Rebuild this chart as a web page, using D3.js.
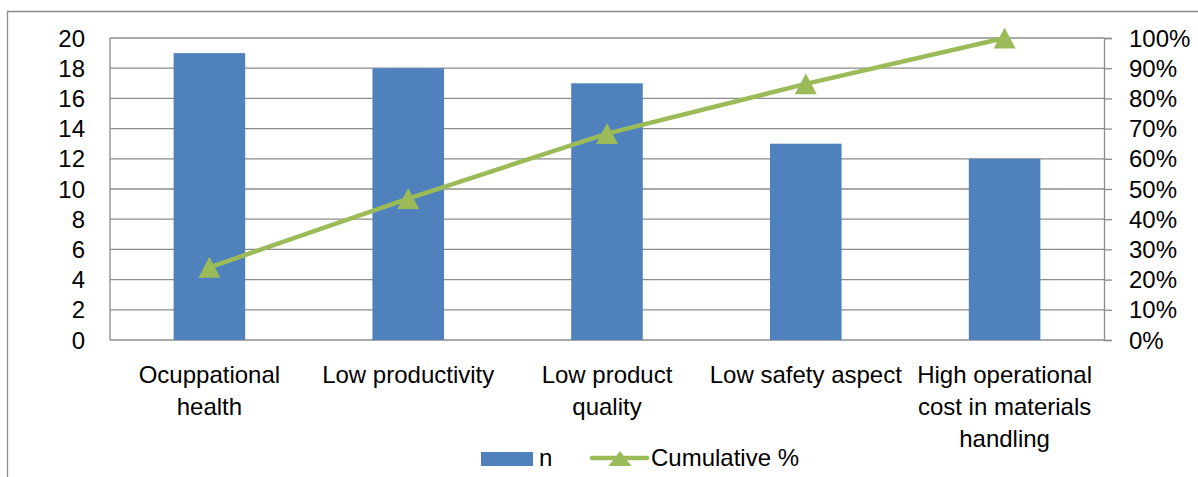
<!DOCTYPE html>
<html lang="en">
<head>
<meta charset="utf-8">
<script src="https://d3js.org/d3.v7.min.js"></script>
<style>
  body { margin: 0; background: #fff; }
  text { font-family: "Liberation Sans", Arial, sans-serif; fill: #000; }
</style>
</head>
<body>
<div id="chart"></div>
<script>
// data
var categories = [
    ["Ocuppational", "health"],
    ["Low productivity"],
    ["Low product", "quality"],
    ["Low safety aspect"],
    ["High operational", "cost in materials", "handling"]
];
var counts = [19, 18, 17, 13, 12];
var leftTicks = [0, 2, 4, 6, 8, 10, 12, 14, 16, 18, 20];
var rightTicks = [0, 0.1, 0.2, 0.3, 0.4, 0.5, 0.6, 0.7, 0.8, 0.9, 1];

// cumulative share
var total = d3.sum(counts);
var running = 0;
var cumulative = counts.map(function(c) { running += c; return running / total; });

var width = 1198, height = 477;
var plotLeft = 110, plotRight = 1104, plotTop = 38, plotBottom = 340;
var blue = "#4F81BD", green = "#9BBB59", gridColor = "#8c8c8c";

var svg = d3.select("#chart").append("svg")
    .attr("width", width)
    .attr("height", height);

// outer chart frame (cut off at right and bottom)
svg.append("path")
    .attr("d", "M7.5," + height + "V11.5H" + width)
    .attr("fill", "none")
    .attr("stroke", gridColor)
    .attr("stroke-width", 1.3);

var x = d3.scaleBand()
    .domain(d3.range(counts.length))
    .range([plotLeft, plotRight])
    .paddingInner(0.64)
    .paddingOuter(0.32);

var y = d3.scaleLinear().domain([0, 20]).range([plotBottom, plotTop]);
var y2 = d3.scaleLinear().domain([0, 1]).range([plotBottom, plotTop]);

// gridlines
svg.append("g")
    .selectAll("line")
    .data(leftTicks)
    .enter()
    .append("line")
    .attr("x1", plotLeft).attr("x2", plotRight)
    .attr("y1", function(d) { return y(d); })
    .attr("y2", function(d) { return y(d); })
    .attr("stroke", gridColor)
    .attr("stroke-width", 1.3);

// left axis line + labels
svg.append("line")
    .attr("x1", plotLeft).attr("x2", plotLeft)
    .attr("y1", plotTop).attr("y2", plotBottom)
    .attr("stroke", gridColor).attr("stroke-width", 1.3);

var yAxis = svg.append("g")
    .attr("transform", "translate(" + (plotLeft - 25) + ",0)")
    .call(d3.axisLeft(y).tickValues(leftTicks).tickSize(0).tickPadding(0));
yAxis.select(".domain").remove();
yAxis.selectAll("text")
    .attr("font-size", 24)
    .attr("font-family", "Liberation Sans, Arial, sans-serif")
    .attr("dy", "0.34em");

// right axis
var y2Axis = svg.append("g")
    .attr("transform", "translate(" + plotRight + ",0)")
    .call(d3.axisRight(y2).tickValues(rightTicks).tickSize(8).tickPadding(17)
        .tickFormat(d3.format(".0%")));
y2Axis.select(".domain")
    .attr("stroke", gridColor).attr("stroke-width", 1.3);
y2Axis.selectAll(".tick line")
    .attr("stroke", gridColor).attr("stroke-width", 1.3);
y2Axis.selectAll("text")
    .attr("font-size", 24)
    .attr("font-family", "Liberation Sans, Arial, sans-serif")
    .attr("dy", "0.34em");

// bars
svg.append("g")
    .selectAll("rect")
    .data(counts)
    .enter()
    .append("rect")
    .attr("x", function(d, i) { return x(i); })
    .attr("y", function(d) { return y(d); })
    .attr("width", x.bandwidth())
    .attr("height", function(d) { return plotBottom - y(d); })
    .attr("fill", blue);

// category labels
var labels = svg.append("g")
    .selectAll("text")
    .data(categories)
    .enter()
    .append("text")
    .attr("text-anchor", "middle")
    .attr("font-size", 24)
    .attr("x", function(d, i) { return x(i) + x.bandwidth() / 2; })
    .attr("y", 383);
labels.selectAll("tspan")
    .data(function(d) { return d; })
    .enter()
    .append("tspan")
    .attr("x", function() { return d3.select(this.parentNode).attr("x"); })
    .attr("dy", function(d, i) { return i === 0 ? 0 : 32; })
    .text(function(d) { return d; });

// cumulative line
var line = d3.line()
    .x(function(d, i) { return x(i) + x.bandwidth() / 2; })
    .y(function(d) { return y2(d); });

svg.append("path")
    .datum(cumulative)
    .attr("d", line)
    .attr("fill", "none")
    .attr("stroke", green)
    .attr("stroke-width", 4.5)
    .attr("stroke-linejoin", "round");

var tri = "M0,-10.5L11,10.5L-11,10.5Z";
svg.append("g")
    .selectAll("path")
    .data(cumulative)
    .enter()
    .append("path")
    .attr("d", tri)
    .attr("transform", function(d, i) {
        return "translate(" + (x(i) + x.bandwidth() / 2) + "," + y2(d) + ")";
    })
    .attr("fill", green);

// legend
var legend = svg.append("g");
legend.append("rect")
    .attr("x", 481).attr("y", 452)
    .attr("width", 52).attr("height", 14)
    .attr("fill", blue);
legend.append("text")
    .attr("x", 539).attr("y", 466)
    .attr("font-size", 24)
    .text("n");
legend.append("line")
    .attr("x1", 592).attr("x2", 647)
    .attr("y1", 458).attr("y2", 458)
    .attr("stroke", green)
    .attr("stroke-width", 4.5)
    .attr("stroke-linecap", "round");
legend.append("path")
    .attr("d", "M0,-7.5L11.5,7.5L-11.5,7.5Z")
    .attr("transform", "translate(620,458.5)")
    .attr("fill", green);
legend.append("text")
    .attr("x", 651).attr("y", 466)
    .attr("font-size", 24)
    .text("Cumulative %");
</script>
</body>
</html>
